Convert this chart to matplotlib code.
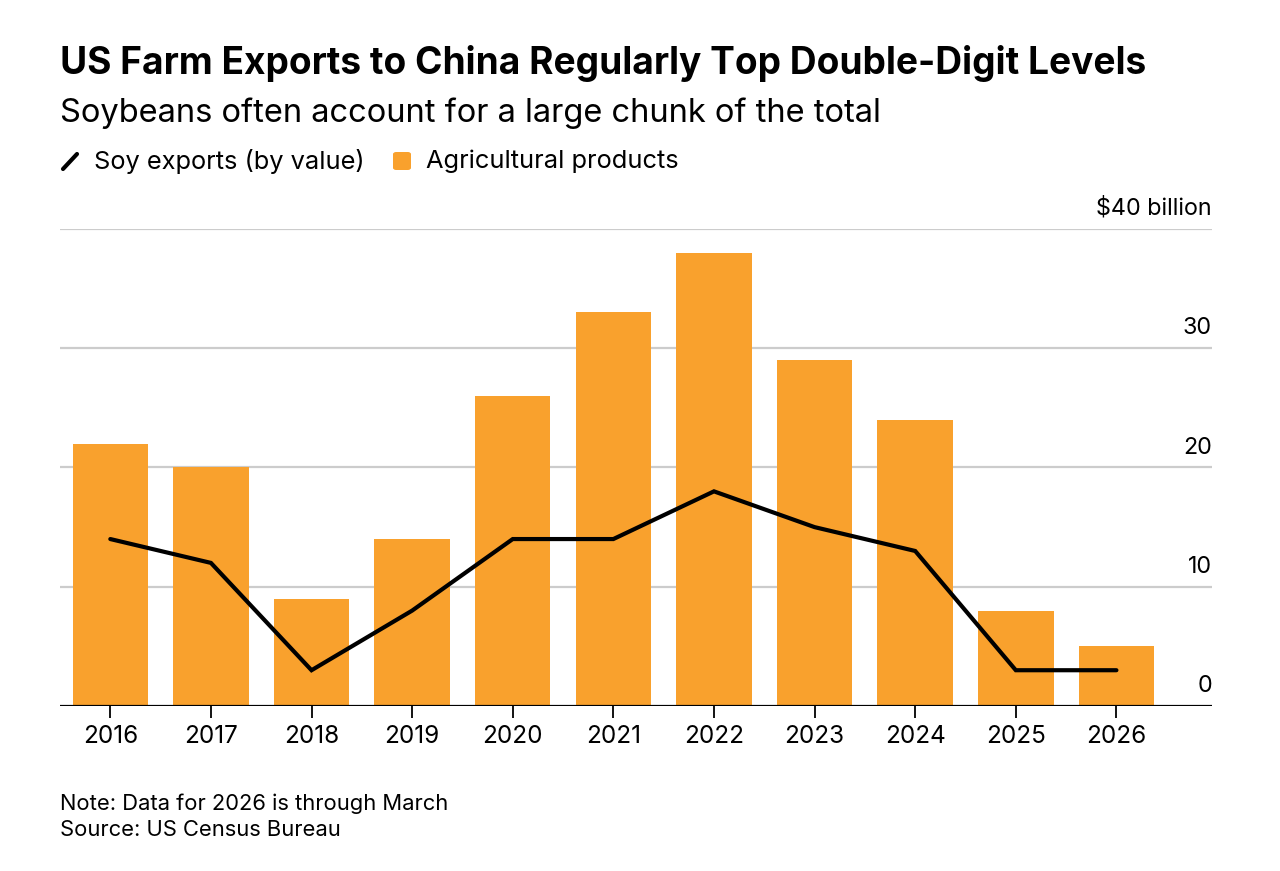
import matplotlib
matplotlib.use("Agg")
import matplotlib.pyplot as plt
from matplotlib.patches import FancyBboxPatch
from matplotlib.lines import Line2D
import matplotlib.transforms as mtransforms
import numpy as np

years = ["2016", "2017", "2018", "2019", "2020", "2021", "2022", "2023", "2024", "2025", "2026"]
agri_products = [22, 20, 9, 14, 26, 33, 38, 29, 24, 8, 5]
soy_exports = [14, 12, 3, 8, 14, 14, 18, 15, 13, 3, 3]
y_ticks = [0, 10, 20, 30, 40]
y_tick_labels = ["0", "10", "20", "30", "$40 billion"]

plt.rcParams['font.family'] = ['Inter', 'DejaVu Sans']
ORANGE = "#F9A12D"

W, H = 1280, 871
fig = plt.figure(figsize=(W / 100, H / 100), dpi=100)
fig.patch.set_facecolor("white")

def fx(px):
    return px / W

def fy(py):
    return 1 - py / H

ax = fig.add_axes([fx(60), fy(706), fx(1212) - fx(60), fy(229) - fy(706)])
x = np.arange(len(years))
ax.bar(x, agri_products, width=0.75, color=ORANGE, zorder=2)
ax.plot(x, soy_exports, color="black", lw=3.0, solid_capstyle="round",
        solid_joinstyle="miter", zorder=3)

ax.set_xlim(-0.5, 10.95)
ax.set_ylim(0, 40)
for t in y_ticks[1:]:
    ax.axhline(t, color="#cccccc", lw=1.6, zorder=1)
ax.axhline(0, color="black", lw=1.6, zorder=4)

for s in ax.spines.values():
    s.set_visible(False)
ax.set_yticks([])
ax.set_xticks(x)
ax.set_xticklabels(years, fontsize=17.5)
ax.tick_params(axis="x", length=8.5, width=1.3, color="black", pad=5)

offset = mtransforms.offset_copy(ax.get_yaxis_transform(), fig=fig, x=0, y=9, units="dots")
for t, lab in zip(y_ticks, y_tick_labels):
    ax.text(1.0, t, lab, transform=offset, ha="right", va="bottom", fontsize=16.8)

# Titles
fig.text(fx(60), fy(63), "US Farm Exports to China Regularly Top Double-Digit Levels",
         fontsize=26.7, fontweight="bold", ha="left", va="center")
fig.text(fx(60), fy(113), "Soybeans often account for a large chunk of the total",
         fontsize=23.5, ha="left", va="center")

# Legend
fig.add_artist(Line2D([fx(63), fx(77)], [fy(169), fy(154)], color="black", lw=3,
                      solid_capstyle="round", transform=fig.transFigure))
fig.text(fx(94), fy(161), "Soy exports (by value)", fontsize=18.3, ha="left", va="center")
fig.add_artist(FancyBboxPatch((fx(393), fy(170)), fx(18), fy(152) - fy(170),
                              boxstyle="round,pad=0,rounding_size=0.0025",
                              facecolor=ORANGE, edgecolor="none",
                              transform=fig.transFigure))
fig.text(fx(426), fy(161), "Agricultural products", fontsize=18.3, ha="left", va="center")

# Footer
fig.text(fx(60), fy(804), "Note: Data for 2026 is through March", fontsize=15.8,
         ha="left", va="center")
fig.text(fx(60), fy(830), "Source: US Census Bureau", fontsize=15.8, ha="left", va="center")

fig.savefig("out.png", dpi=100)
